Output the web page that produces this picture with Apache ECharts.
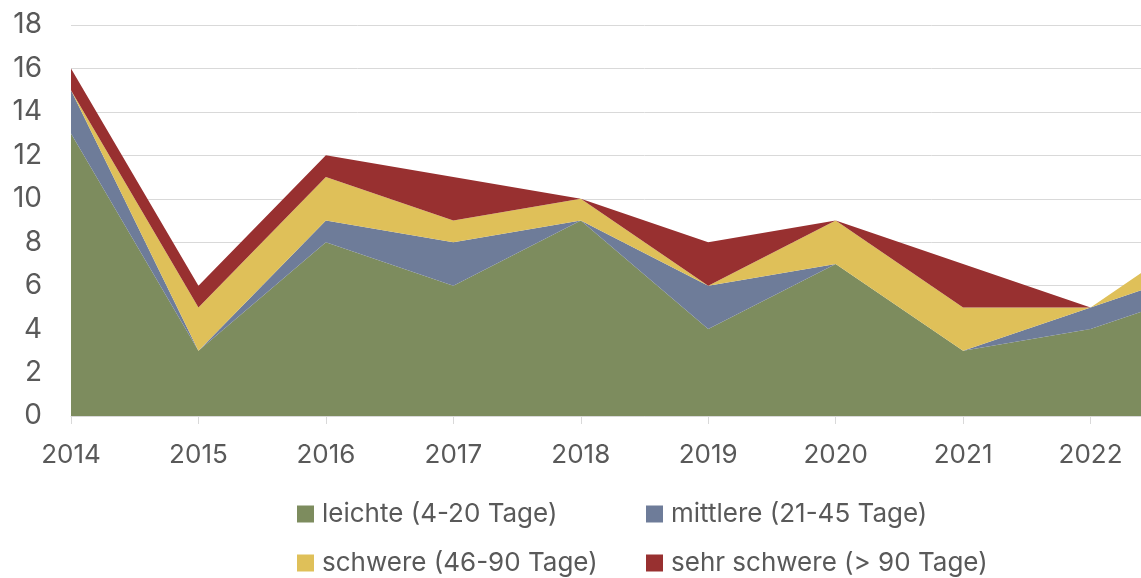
<!DOCTYPE html>
<html>
<head>
<meta charset="utf-8">
<script src="https://cdn.jsdelivr.net/npm/echarts@6/dist/echarts.min.js"></script>
<style>
  html, body { margin: 0; padding: 0; background: #fff; overflow: hidden; }
  /* the original is cut off on the right, 2023 sits past the edge */
  #chart { width: 1218px; height: 578px; }
</style>
</head>
<body>
<div id="chart"></div>
<script>
var years = ['2014', '2015', '2016', '2017', '2018', '2019', '2020', '2021', '2022', '2023'];
var leichte = [13, 3, 8, 6, 9, 4, 7, 3, 4, 6];
var mittlere = [2, 0, 1, 2, 0, 2, 0, 0, 1, 1];
var schwere = [0, 2, 2, 1, 1, 0, 2, 2, 0, 2];
var sehrSchwere = [1, 1, 1, 2, 0, 2, 0, 2, 0, 0];

var names = ['leichte (4-20 Tage)', 'mittlere (21-45 Tage)', 'schwere (46-90 Tage)', 'sehr schwere (> 90 Tage)'];
var colors = ['#7d8c5e', '#6e7c99', '#dfc059', '#983030'];

var fontFam = 'Inter, "Open Sans", sans-serif';
var textCol = '#595959';

var myChart = echarts.init(document.getElementById('chart'));
var option;

function mkSeries(name, data, color) {
  return {
    name: name,
    type: 'line',
    stack: 'Total',
    data: data,
    showSymbol: false,
    symbol: 'none',
    lineStyle: { width: 0 },
    itemStyle: { color: color },
    areaStyle: { color: color, opacity: 1 }
  };
}

function mkLegend(name, left, top) {
  return {
    data: [name],
    left: left,
    top: top,
    icon: 'rect',
    itemWidth: 17,
    itemHeight: 17,
    padding: 0,
    textStyle: { fontFamily: fontFam, fontSize: 26, color: textCol, padding: [0, 0, 0, 3] }
  };
}

option = {
  animation: false,
  color: colors,
  grid: {
    left: 71,
    right: 0,
    top: 25,
    bottom: 162,
    outerBoundsMode: 'none'
  },
  legend: [
    mkLegend(names[0], 297, 501),
    mkLegend(names[1], 646, 501),
    mkLegend(names[2], 297, 550),
    mkLegend(names[3], 646, 550)
  ],
  xAxis: {
    type: 'category',
    boundaryGap: false,
    data: years,
    axisLine: { show: true, lineStyle: { color: '#d9d9d9', width: 1 } },
    axisTick: { show: true, alignWithLabel: true, length: 8, lineStyle: { color: '#d9d9d9' } },
    axisLabel: { fontFamily: fontFam, fontSize: 26, color: textCol, margin: 26 }
  },
  yAxis: {
    type: 'value',
    min: 0,
    max: 18,
    interval: 2,
    axisLine: { show: false },
    axisTick: { show: false },
    splitLine: { lineStyle: { color: '#d9d9d9', width: 1 } },
    axisLabel: { fontFamily: fontFam, fontSize: 28, color: textCol, margin: 29 }
  },
  series: [
    mkSeries(names[0], leichte, colors[0]),
    mkSeries(names[1], mittlere, colors[1]),
    mkSeries(names[2], schwere, colors[2]),
    mkSeries(names[3], sehrSchwere, colors[3])
  ]
};

option && myChart.setOption(option);
</script>
</body>
</html>
